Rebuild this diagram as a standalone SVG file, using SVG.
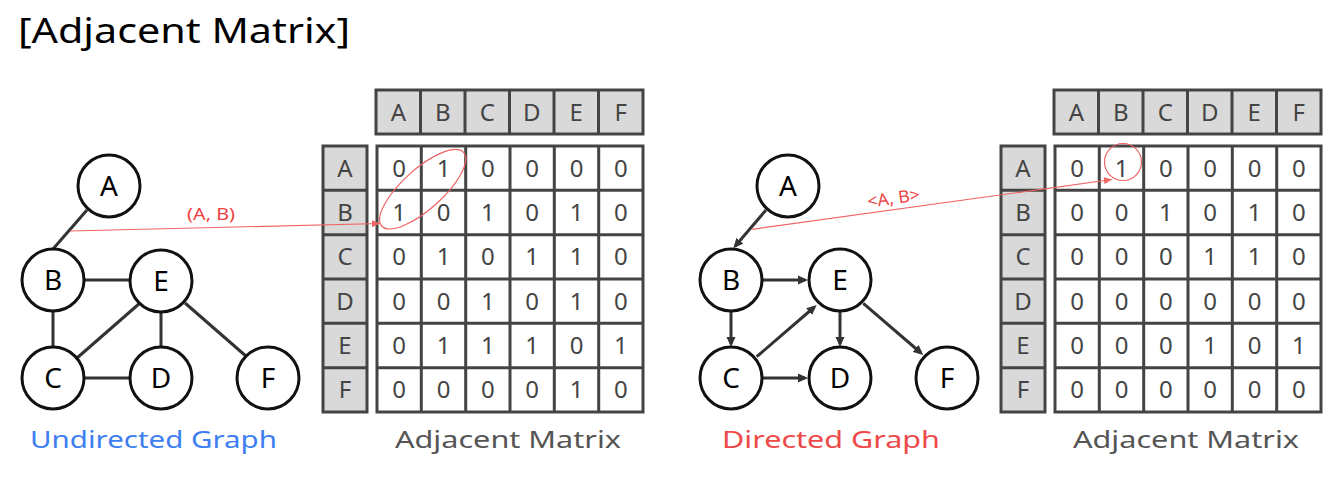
<svg xmlns="http://www.w3.org/2000/svg" width="1342" height="480" viewBox="0 0 1342 480">
<style>
.node circle{fill:#fff;stroke:#111;stroke-width:3}
.node text{font-family:"Noto Sans","DejaVu Sans",sans-serif;font-size:28px;fill:#000;text-anchor:middle}
.edge{stroke:#333;stroke-width:3;fill:none}
.darr{stroke:#333;stroke-width:3;fill:none;marker-end:url(#ah)}
.grid{stroke:#444;stroke-width:3}
.hdr{fill:#d9d9d9;stroke:#444;stroke-width:3}
.cell{fill:#fff;stroke:#444;stroke-width:3}
.mt{font-family:"Noto Sans","DejaVu Sans",sans-serif;font-size:24px;fill:#444;text-anchor:middle}
.red{stroke:#f06464;stroke-width:1.2;fill:none}
.rl{font-family:"Noto Sans","DejaVu Sans",sans-serif;font-size:17px;fill:#ee4444}
.cap{font-family:"Noto Sans","DejaVu Sans",sans-serif;font-size:24px}
</style>
<defs>
<marker id="ah" markerUnits="userSpaceOnUse" markerWidth="10" markerHeight="10" refX="7" refY="5" orient="auto" viewBox="0 0 10 10">
<path d="M0,0.5 L10,5 L0,9.5 z" fill="#333"/>
</marker>
<marker id="rh" markerUnits="userSpaceOnUse" markerWidth="8" markerHeight="7" refX="8" refY="3.5" orient="auto" viewBox="0 0 8 7">
<path d="M0,0 L8,3.5 L0,7 z" fill="#f06464"/>
</marker>
</defs>
<rect width="1342" height="480" fill="#fff"/>
<text x="18" y="43" font-family="Noto Sans, DejaVu Sans, sans-serif" font-size="35" textLength="332" lengthAdjust="spacingAndGlyphs" fill="#000">[Adjacent Matrix]</text>

<!-- Undirected graph connectors -->
<g id="edges-undirected">
<line class="edge" x1="87" y1="210" x2="53" y2="249"/>
<line class="edge" x1="83" y1="280" x2="130" y2="280"/>
<line class="edge" x1="53" y1="311" x2="53" y2="348"/>
<line class="edge" x1="140" y1="303" x2="77" y2="358"/>
<line class="edge" x1="161" y1="313" x2="161" y2="348"/>
<line class="edge" x1="85" y1="378" x2="130" y2="378"/>
<line class="edge" x1="185" y1="303" x2="247" y2="357"/>
</g>
<g id="u-A" class="node"><circle cx="109" cy="186" r="31"/><text x="109" y="196">A</text></g>
<g id="u-B" class="node"><circle cx="53" cy="280" r="31"/><text x="53" y="290">B</text></g>
<g id="u-E" class="node"><circle cx="161" cy="281" r="31"/><text x="161" y="291">E</text></g>
<g id="u-C" class="node"><circle cx="53" cy="378" r="31"/><text x="53" y="388">C</text></g>
<g id="u-D" class="node"><circle cx="161" cy="378" r="31"/><text x="161" y="388">D</text></g>
<g id="u-F" class="node"><circle cx="268" cy="378" r="31"/><text x="268" y="388">F</text></g>

<!-- Directed graph connectors -->
<g id="edges-directed">
<line class="darr" x1="766" y1="210" x2="735.3" y2="246"/>
<line class="darr" x1="763" y1="280" x2="805" y2="280"/>
<line class="darr" x1="731" y1="311" x2="731" y2="344"/>
<line class="darr" x1="756.7" y1="356.7" x2="814.4" y2="307"/>
<line class="darr" x1="840" y1="312" x2="840" y2="344"/>
<line class="darr" x1="762" y1="378" x2="805" y2="378"/>
<line class="darr" x1="863.3" y1="303.3" x2="921" y2="353"/>
</g>
<g id="d-A" class="node"><circle cx="788" cy="186" r="31"/><text x="788" y="196">A</text></g>
<g id="d-B" class="node"><circle cx="731" cy="280" r="31"/><text x="731" y="290">B</text></g>
<g id="d-E" class="node"><circle cx="840" cy="280" r="31"/><text x="840" y="290">E</text></g>
<g id="d-C" class="node"><circle cx="731" cy="378" r="31"/><text x="731" y="388">C</text></g>
<g id="d-D" class="node"><circle cx="840" cy="378" r="31"/><text x="840" y="388">D</text></g>
<g id="d-F" class="node"><circle cx="947" cy="378" r="31"/><text x="947" y="388">F</text></g>

<!-- Left matrix -->
<g id="matrix-undirected">
<rect class="hdr" x="376" y="90" width="267" height="44"/>
<path class="grid" d="M420.5,90V134M465,90V134M509.5,90V134M554,90V134M598.5,90V134"/>
<rect class="hdr" x="323" y="146" width="44" height="266"/>
<path class="grid" d="M323,190.3H367M323,234.7H367M323,279H367M323,323.3H367M323,367.7H367"/>
<rect class="cell" x="377" y="146" width="266" height="266"/>
<path class="grid" d="M421.3,146V412M465.7,146V412M510,146V412M554.3,146V412M598.7,146V412M377,190.3H643M377,234.7H643M377,279H643M377,323.3H643M377,367.7H643"/>
<g class="mt">
<text x="398.3" y="120.5">A</text><text x="442.8" y="120.5">B</text><text x="487.3" y="120.5">C</text><text x="531.8" y="120.5">D</text><text x="576.3" y="120.5">E</text><text x="620.8" y="120.5">F</text>
<text x="345" y="176.7">A</text><text x="345" y="221">B</text><text x="345" y="265.3">C</text><text x="345" y="309.7">D</text><text x="345" y="354">E</text><text x="345" y="398.3">F</text>
<text x="399.2" y="176.7">0</text><text x="443.5" y="176.7">1</text><text x="487.8" y="176.7">0</text><text x="532.2" y="176.7">0</text><text x="576.5" y="176.7">0</text><text x="620.8" y="176.7">0</text>
<text x="399.2" y="221">1</text><text x="443.5" y="221">0</text><text x="487.8" y="221">1</text><text x="532.2" y="221">0</text><text x="576.5" y="221">1</text><text x="620.8" y="221">0</text>
<text x="399.2" y="265.3">0</text><text x="443.5" y="265.3">1</text><text x="487.8" y="265.3">0</text><text x="532.2" y="265.3">1</text><text x="576.5" y="265.3">1</text><text x="620.8" y="265.3">0</text>
<text x="399.2" y="309.7">0</text><text x="443.5" y="309.7">0</text><text x="487.8" y="309.7">1</text><text x="532.2" y="309.7">0</text><text x="576.5" y="309.7">1</text><text x="620.8" y="309.7">0</text>
<text x="399.2" y="354">0</text><text x="443.5" y="354">1</text><text x="487.8" y="354">1</text><text x="532.2" y="354">1</text><text x="576.5" y="354">0</text><text x="620.8" y="354">1</text>
<text x="399.2" y="398.3">0</text><text x="443.5" y="398.3">0</text><text x="487.8" y="398.3">0</text><text x="532.2" y="398.3">0</text><text x="576.5" y="398.3">1</text><text x="620.8" y="398.3">0</text>
</g>
</g>

<!-- Right matrix -->
<g id="matrix-directed" transform="translate(678,0)">
<rect class="hdr" x="376" y="90" width="267" height="44"/>
<path class="grid" d="M420.5,90V134M465,90V134M509.5,90V134M554,90V134M598.5,90V134"/>
<rect class="hdr" x="323" y="146" width="44" height="266"/>
<path class="grid" d="M323,190.3H367M323,234.7H367M323,279H367M323,323.3H367M323,367.7H367"/>
<rect class="cell" x="377" y="146" width="266" height="266"/>
<path class="grid" d="M421.3,146V412M465.7,146V412M510,146V412M554.3,146V412M598.7,146V412M377,190.3H643M377,234.7H643M377,279H643M377,323.3H643M377,367.7H643"/>
<g class="mt">
<text x="398.3" y="120.5">A</text><text x="442.8" y="120.5">B</text><text x="487.3" y="120.5">C</text><text x="531.8" y="120.5">D</text><text x="576.3" y="120.5">E</text><text x="620.8" y="120.5">F</text>
<text x="345" y="176.7">A</text><text x="345" y="221">B</text><text x="345" y="265.3">C</text><text x="345" y="309.7">D</text><text x="345" y="354">E</text><text x="345" y="398.3">F</text>
<text x="399.2" y="176.7">0</text><text x="443.5" y="176.7">1</text><text x="487.8" y="176.7">0</text><text x="532.2" y="176.7">0</text><text x="576.5" y="176.7">0</text><text x="620.8" y="176.7">0</text>
<text x="399.2" y="221">0</text><text x="443.5" y="221">0</text><text x="487.8" y="221">1</text><text x="532.2" y="221">0</text><text x="576.5" y="221">1</text><text x="620.8" y="221">0</text>
<text x="399.2" y="265.3">0</text><text x="443.5" y="265.3">0</text><text x="487.8" y="265.3">0</text><text x="532.2" y="265.3">1</text><text x="576.5" y="265.3">1</text><text x="620.8" y="265.3">0</text>
<text x="399.2" y="309.7">0</text><text x="443.5" y="309.7">0</text><text x="487.8" y="309.7">0</text><text x="532.2" y="309.7">0</text><text x="576.5" y="309.7">0</text><text x="620.8" y="309.7">0</text>
<text x="399.2" y="354">0</text><text x="443.5" y="354">0</text><text x="487.8" y="354">0</text><text x="532.2" y="354">1</text><text x="576.5" y="354">0</text><text x="620.8" y="354">1</text>
<text x="399.2" y="398.3">0</text><text x="443.5" y="398.3">0</text><text x="487.8" y="398.3">0</text><text x="532.2" y="398.3">0</text><text x="576.5" y="398.3">0</text><text x="620.8" y="398.3">0</text>
</g>
</g>

<!-- Red annotations -->
<g id="annotations">
<ellipse class="red" cx="422.7" cy="189.2" rx="55" ry="20" transform="rotate(-42 422.7 189.2)"/>
<line class="red" x1="70" y1="231" x2="380" y2="223.5" marker-end="url(#rh)"/>
<text class="rl" x="187" y="220" textLength="48" lengthAdjust="spacingAndGlyphs">(A, B)</text>
<circle class="red" cx="1123" cy="162" r="18.5"/>
<line class="red" x1="752" y1="229.3" x2="1112" y2="179.5" marker-end="url(#rh)"/>
<text class="rl" x="867" y="204" textLength="53" lengthAdjust="spacingAndGlyphs" transform="rotate(-8 893 197)">&lt;A, B&gt;</text>
</g>

<!-- Captions -->
<text class="cap" x="30" y="448" fill="#3d7ef0" textLength="247" lengthAdjust="spacingAndGlyphs">Undirected Graph</text>
<text class="cap" x="395" y="448" fill="#555" textLength="226" lengthAdjust="spacingAndGlyphs">Adjacent Matrix</text>
<text class="cap" x="722" y="448" fill="#ee4a4a" textLength="218" lengthAdjust="spacingAndGlyphs">Directed Graph</text>
<text class="cap" x="1073" y="448" fill="#555" textLength="226" lengthAdjust="spacingAndGlyphs">Adjacent Matrix</text>
</svg>
